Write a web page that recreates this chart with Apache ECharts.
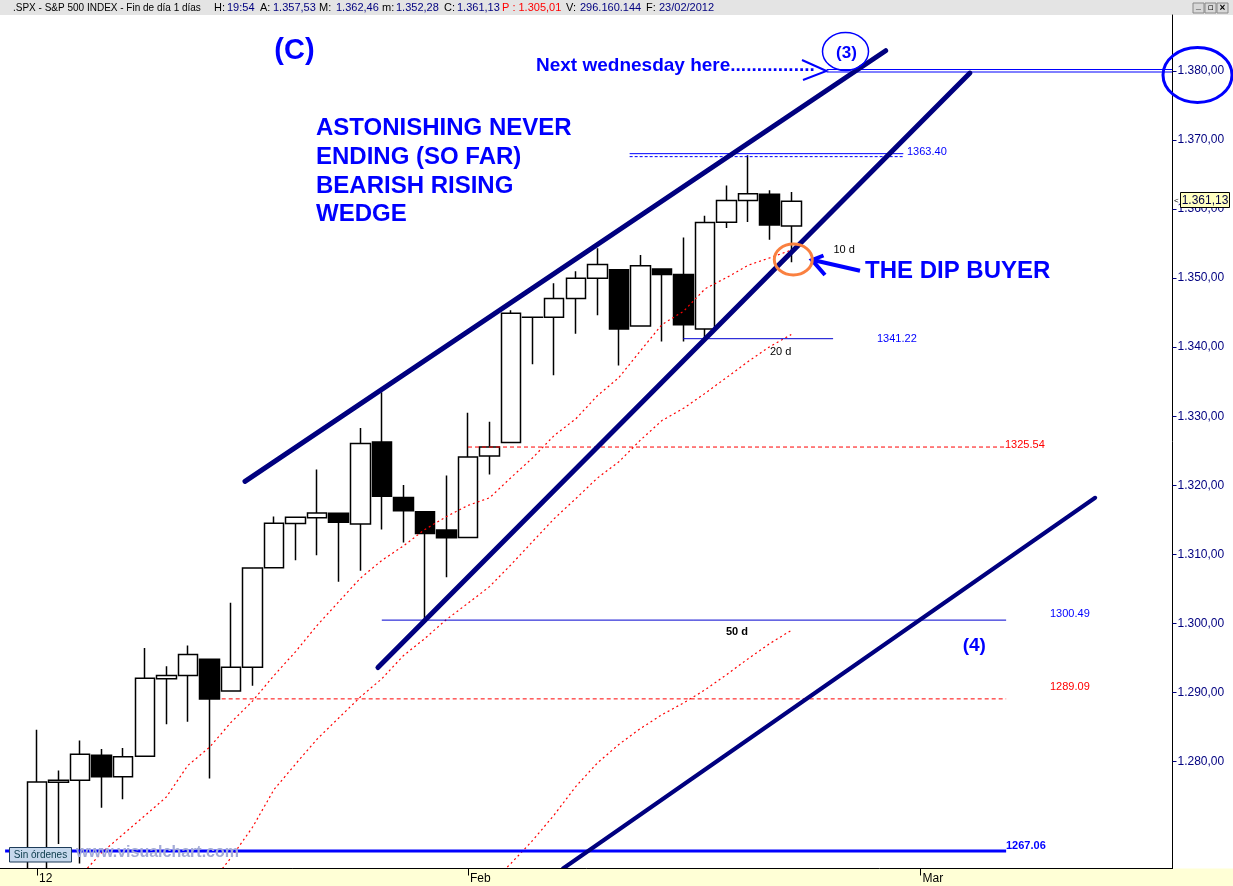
<!DOCTYPE html>
<html>
<head>
<meta charset="utf-8">
<script src="https://cdn.jsdelivr.net/npm/echarts@6/dist/echarts.min.js"></script>
<style>
html,body{margin:0;padding:0;background:#ffffff;}
#c{width:1233px;height:886px;}
</style>
</head>
<body>
<div id="c"></div>
<script>
// ---------- DATA ----------
const dates = ['03/01','04/01','05/01','06/01','09/01','10/01','11/01','12/01','13/01','17/01',
  '18/01','19/01','20/01','23/01','24/01','25/01','26/01','27/01','30/01','31/01',
  '01/02','02/02','03/02','06/02','07/02','08/02','09/02','10/02','13/02','14/02',
  '15/02','16/02','17/02','21/02','22/02','23/02'];
const open  = [1258.86,1277.03,1277.30,1280.93,1277.83,1280.77,1292.02,1292.48,1294.82,1290.22,
  1293.65,1308.07,1314.49,1315.29,1315.96,1314.40,1326.28,1318.25,1316.16,1313.53,
  1312.45,1324.24,1326.21,1344.32,1344.33,1347.04,1349.97,1351.21,1343.06,1351.30,
  1350.52,1342.61,1358.06,1361.22,1362.11,1357.53];
const high  = [1284.62,1278.73,1283.05,1281.84,1281.99,1296.46,1293.80,1296.82,1294.82,1303.00,
  1308.11,1315.49,1315.38,1322.28,1315.96,1328.30,1333.47,1320.06,1316.16,1321.41,
  1330.52,1329.19,1345.34,1344.36,1349.24,1351.00,1354.32,1351.21,1353.35,1351.30,
  1355.87,1359.02,1363.40,1367.76,1362.70,1362.46];
const low   = [1258.86,1268.10,1265.26,1273.34,1274.55,1280.77,1285.41,1285.77,1277.58,1290.22,
  1290.99,1308.07,1309.17,1309.89,1306.06,1307.65,1313.60,1311.72,1300.49,1306.69,
  1312.45,1321.57,1326.21,1337.52,1335.92,1341.95,1344.63,1337.35,1343.06,1340.83,
  1340.80,1341.22,1357.24,1358.11,1355.53,1352.28];
const close = [1277.06,1277.30,1281.06,1277.81,1280.70,1292.08,1292.48,1295.50,1289.09,1293.67,
  1308.04,1314.50,1315.38,1316.00,1314.65,1326.06,1318.43,1316.33,1313.01,1312.41,
  1324.09,1325.54,1344.90,1344.33,1347.05,1349.96,1351.95,1342.64,1351.77,1350.50,
  1343.23,1358.04,1361.23,1362.21,1357.66,1361.13];
const ma10 = [1252.25,1259.44,1263.42,1266.83,1269.50,1272.17,1274.88,1279.46,1282.07,1285.68,
  1288.77,1292.49,1295.93,1299.74,1303.14,1306.54,1309.13,1311.22,1313.61,1315.48,
  1317.09,1318.19,1321.14,1323.98,1327.22,1329.61,1332.96,1335.59,1339.46,1343.27,
  1345.19,1348.44,1350.07,1351.86,1352.92,1354.04];
const ma20 = [null,null,null,null,null,null,null,1258.33,1262.19,1266.09,
  1270.51,1275.97,1279.67,1283.28,1286.32,1289.35,1292.00,1295.34,1297.84,1300.58,
  1302.93,1305.34,1308.53,1311.86,1315.18,1318.07,1321.04,1323.40,1326.54,1329.38,
  1331.14,1333.31,1335.61,1337.92,1340.07,1341.82];
const ma50 = [null,null,null,null,null,null,null,null,null,null,
  null,null,null,null,null,null,null,null,null,null,
  null,1262.2,1265.3,1268.6,1272.3,1276.4,1279.8,1282.5,1284.8,1286.8,
  1288.5,1290.4,1292.6,1294.9,1297.1,1299.0];
const xTickIndex  = [0, 20, 41];
const xTickLabels = ['12', 'Feb', 'Mar'];
const yTicks = [1280,1290,1300,1310,1320,1330,1340,1350,1360,1370,1380];
// horizontal levels (value, start bar, end bar)
const levelValues = [1380, 1367.8, 1341.22, 1325.54, 1300.49, 1289.09, 1267.06];
const levelStarts = [36.64, 27.5, 29.98, 20.0, 16.0, 8.57, -1.48];
const levelEnds   = [52.69, 40.2, 36.94, 44.97, 44.97, 44.97, 44.97];
// trendlines (bar index, price)
const trendUpper   = [[9.652, 1320.56], [39.38, 1382.90]];
const trendLower   = [[15.82, 1293.62], [43.29, 1379.67]];
const trendChannel = [[24.41, 1264.54], [49.10, 1318.20]];

// ---------- CHART ----------
const FONT = '"Liberation Sans", Arial, sans-serif';
const chart = echarts.init(document.getElementById('c'), null, {renderer: 'canvas'});

const candles = dates.map((d, i) => [i, open[i], close[i], low[i], high[i]]);
const toPts = arr => arr.map((v, i) => v == null ? null : [i, v]).filter(p => p);
const fmtY = v => { const s = v.toFixed(2).split('.'); const ip = s[0]; return ip.slice(0, ip.length - 3) + '.' + ip.slice(-3) + ',' + s[1]; };

function lineS(points, style, z) {
  return {type: 'line', data: points, symbol: 'none', showSymbol: false, silent: true,
    animation: false, clip: true, lineStyle: style, z: z || 3};
}
function levelS(k, offset, style) {
  const v = levelValues[k] + (offset || 0);
  return lineS([[levelStarts[k], v], [levelEnds[k], v]], style, 3);
}
const maStyle = {color: '#ff0000', width: 1.2, type: [2, 3]};
const BLUE = '#0000ff';
const NAVY = '#00007f';

const series = [
  {type: 'candlestick', data: candles, barWidth: 20, silent: true, animation: false, z: 2, clip: true,
    itemStyle: {color: '#ffffff', color0: '#000000', borderColor: '#000000', borderColor0: '#000000', borderWidth: 1.5}},
  lineS(toPts(ma10), maStyle, 3),
  lineS(toPts(ma20), maStyle, 3),
  lineS(toPts(ma50), maStyle, 3),
  levelS(0, 0.18, {color: BLUE, width: 1}),
  levelS(0, -0.18, {color: BLUE, width: 1}),
  levelS(1, 0.2, {color: BLUE, width: 1}),
  levelS(1, -0.23, {color: BLUE, width: 1, type: [3, 2]}),
  levelS(2, 0, {color: '#0000d0', width: 1}),
  levelS(3, 0, {color: '#ff0000', width: 1, type: [4, 3]}),
  levelS(4, 0, {color: '#0000d0', width: 1}),
  levelS(5, 0, {color: '#ff0000', width: 1, type: [4, 3]}),
  levelS(6, 0, {color: BLUE, width: 3}),
  lineS(trendUpper, {color: NAVY, width: 5, cap: 'round'}, 4),
  lineS(trendLower, {color: NAVY, width: 5, cap: 'round'}, 4),
  lineS(trendChannel, {color: NAVY, width: 4, cap: 'round'}, 4)
];

function T(x, y, text, font, fill, align, extra) {
  return Object.assign({type: 'text', z: 100, silent: true,
    style: {x: x, y: y, text: text, font: font, fill: fill, textAlign: align || 'left', textVerticalAlign: 'middle'}}, extra || {});
}
const f11 = '11px ' + FONT, b11 = 'bold 11px ' + FONT, f10 = '10px ' + FONT;
const BIG = 'bold 24px ' + FONT;
const graphic = [
  // header bar
  {type: 'rect', z: -1, silent: true, shape: {x: 0, y: 0, width: 1233, height: 15}, style: {fill: '#e4e4e4'}},
  // bottom date strip (above series so bars stop at the axis; axis drawn above it)
  {type: 'rect', z: 50, silent: true, shape: {x: 0, y: 868.5, width: 1233, height: 18}, style: {fill: '#ffffd6'}},
  T(13, 8, '.SPX - S&P 500 INDEX - Fin de día 1 días', f10, '#000'),
  T(214, 8, 'H:', f11, '#000'), T(227, 8, '19:54', f11, '#000080'),
  T(260, 8, 'A:', f11, '#000'), T(273, 8, '1.357,53', f11, '#000080'),
  T(319, 8, 'M:', f11, '#000'), T(336, 8, '1.362,46', f11, '#000080'),
  T(382, 8, 'm:', f11, '#000'), T(396, 8, '1.352,28', f11, '#000080'),
  T(444, 8, 'C:', f11, '#000'), T(457, 8, '1.361,13', f11, '#000080'),
  T(502, 8, 'P : 1.305,01', f11, '#ff0000'),
  T(566, 8, 'V:', f11, '#000'), T(580, 8, '296.160.144', f11, '#000080'),
  T(646, 8, 'F:', f11, '#000'), T(659, 8, '23/02/2012', f11, '#000080'),
  // window buttons
  {type: 'rect', z: 100, silent: true, shape: {x: 1193, y: 3, width: 11, height: 10}, style: {fill: '#d8d8d8', stroke: '#888', lineWidth: 1}},
  {type: 'rect', z: 100, silent: true, shape: {x: 1205, y: 3, width: 11, height: 10}, style: {fill: '#d8d8d8', stroke: '#888', lineWidth: 1}},
  {type: 'rect', z: 100, silent: true, shape: {x: 1217, y: 3, width: 11, height: 10}, style: {fill: '#d8d8d8', stroke: '#888', lineWidth: 1}},
  T(1198.5, 7, '_', 'bold 9px ' + FONT, '#000', 'center'),
  T(1210.5, 8, '▫', '9px "DejaVu Sans"', '#000', 'center'),
  T(1222.5, 8, '×', 'bold 10px ' + FONT, '#000', 'center'),
  // annotations
  T(294.5, 51, '(C)', 'bold 29px ' + FONT, BLUE, 'center'),
  T(316, 128, 'ASTONISHING NEVER', BIG, BLUE),
  T(316, 157, 'ENDING (SO FAR)', BIG, BLUE),
  T(316, 186, 'BEARISH RISING', BIG, BLUE),
  T(316, 214, 'WEDGE', BIG, BLUE),
  T(536, 66, 'Next wednesday here................', 'bold 19px ' + FONT, BLUE),
  {type: 'polyline', z: 100, silent: true, shape: {points: [[802, 60], [826.5, 71], [803, 80]]}, style: {stroke: BLUE, lineWidth: 2, fill: null}},
  {type: 'ellipse', z: 100, silent: true, shape: {cx: 845.5, cy: 51.5, rx: 23, ry: 19}, style: {stroke: BLUE, lineWidth: 1.5, fill: null}},
  T(846.5, 53.5, '(3)', 'bold 17px ' + FONT, BLUE, 'center'),
  {type: 'ellipse', z: 100, silent: true, shape: {cx: 1197.5, cy: 75, rx: 34.5, ry: 27.5}, style: {stroke: BLUE, lineWidth: 3, fill: null}},
  T(865, 271, 'THE DIP BUYER', BIG, BLUE),
  {type: 'polyline', z: 100, silent: true, shape: {points: [[860, 270.7], [813, 260]]}, style: {stroke: BLUE, lineWidth: 4, fill: null}},
  {type: 'polyline', z: 100, silent: true, shape: {points: [[823.5, 255.5], [812, 260], [825, 275]]}, style: {stroke: BLUE, lineWidth: 4, fill: null}},
  {type: 'ellipse', z: 100, silent: true, shape: {cx: 793.3, cy: 259.5, rx: 19, ry: 15.5}, style: {stroke: '#fa8040', lineWidth: 3, fill: null}},
  T(833.5, 250, '10 d', f11, '#000'),
  T(770, 352, '20 d', f11, '#000'),
  T(726, 632, '50 d', b11, '#000'),
  T(974.3, 646, '(4)', 'bold 19px ' + FONT, BLUE, 'center'),
  T(907, 152, '1363.40', f11, BLUE),
  T(877, 338.5, '1341.22', f11, BLUE),
  T(1005, 444.5, '1325.54', f11, '#ff0000'),
  T(1050, 613.5, '1300.49', f11, BLUE),
  T(1050, 687, '1289.09', f11, '#ff0000'),
  T(1006, 845.5, '1267.06', b11, BLUE),
  // watermark and order box
  T(76, 852.5, 'www.visualchart.com', 'bold 16px ' + FONT, '#a3aad6'),
  {type: 'rect', z: 101, silent: true, shape: {x: 9.5, y: 847.5, width: 62, height: 14.5}, style: {fill: '#c6d8ec', stroke: '#1e3c5a', lineWidth: 1}},
  T(40.5, 855, 'Sin órdenes', f10, '#0a3a4a', 'center', {z: 102}),
  // last price box on axis
  {type: 'rect', z: 101, silent: true, shape: {x: 1180.5, y: 192.5, width: 49, height: 15}, style: {fill: '#ffffc0', stroke: '#000', lineWidth: 1}},
  T(1205, 200.5, '1.361,13', '12px ' + FONT, '#000040', 'center', {z: 102}),
  T(1174, 201, '<', '8px ' + FONT, '#000', 'left', {z: 102})
];

const option = {
  animation: false,
  backgroundColor: '#ffffff',
  grid: {left: 0, right: 60.5, top: 15, bottom: 17.5, containLabel: false, outerBoundsMode: 'none'},
  xAxis: {
    type: 'value', min: -1.717, max: 52.69, z: 60,
    axisLine: {show: true, onZero: false, lineStyle: {color: '#000', width: 1}},
    axisTick: {show: true, customValues: xTickIndex, length: 7, lineStyle: {color: '#000'}},
    axisLabel: {show: true, customValues: xTickIndex, align: 'left', margin: 4, padding: [0, 0, 0, 2],
      color: '#000', fontSize: 12, fontFamily: FONT,
      formatter: v => { const k = xTickIndex.indexOf(Math.round(v)); return k >= 0 ? xTickLabels[k] : ''; }},
    splitLine: {show: false}
  },
  yAxis: {
    type: 'value', position: 'right', min: 1264.54, max: 1388.07, z: 60,
    axisLine: {show: true, onZero: false, lineStyle: {color: '#000', width: 1}},
    axisTick: {show: true, customValues: yTicks, length: 4, lineStyle: {color: '#000080'}},
    axisLabel: {show: true, customValues: yTicks, margin: 5, color: '#000080', fontSize: 12, fontFamily: FONT,
      formatter: v => fmtY(v)},
    splitLine: {show: false}
  },
  series: series,
  graphic: graphic
};
chart.setOption(option);
</script>
</body>
</html>
